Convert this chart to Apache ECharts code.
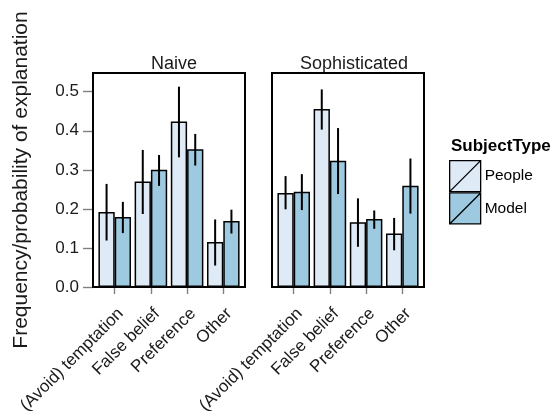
<!DOCTYPE html>
<html><head><meta charset="utf-8">
<script src="https://cdn.jsdelivr.net/npm/echarts@6/dist/echarts.min.js"></script>
<style>html,body{margin:0;padding:0;background:#fff}#c{width:556px;height:411px}</style>
</head><body><div id="c"></div>
<script>
const categories = ['(Avoid) temptation', 'False belief', 'Preference', 'Other'];
const panels = ['Naive', 'Sophisticated'];
const groups = ['People', 'Model'];
const yTicks = [0, 0.1, 0.2, 0.3, 0.4, 0.5];

const naivePeople   = [0.192, 0.270, 0.424, 0.115];
const naivePeopleLo = [0.119, 0.187, 0.332, 0.055];
const naivePeopleHi = [0.264, 0.351, 0.513, 0.173];
const naiveModel    = [0.179, 0.300, 0.353, 0.169];
const naiveModelLo  = [0.138, 0.259, 0.311, 0.137];
const naiveModelHi  = [0.218, 0.338, 0.392, 0.198];

const sophPeople    = [0.241, 0.456, 0.166, 0.137];
const sophPeopleLo  = [0.199, 0.403, 0.103, 0.094];
const sophPeopleHi  = [0.284, 0.506, 0.227, 0.177];
const sophModel     = [0.244, 0.323, 0.174, 0.259];
const sophModelLo   = [0.197, 0.238, 0.149, 0.188];
const sophModelHi   = [0.289, 0.407, 0.196, 0.329];

const colors = { People: '#deebf7', Model: '#9ecae1' };
const FONT = 'Liberation Sans, Arial, sans-serif';
const Y_MAX = 0.548;

const chart = echarts.init(document.getElementById('c'), null, { renderer: 'canvas' });

const panelData = [
  { People: naivePeople, PeopleLo: naivePeopleLo, PeopleHi: naivePeopleHi, Model: naiveModel, ModelLo: naiveModelLo, ModelHi: naiveModelHi },
  { People: sophPeople, PeopleLo: sophPeopleLo, PeopleHi: sophPeopleHi, Model: sophModel, ModelLo: sophModelLo, ModelHi: sophModelHi }
];

const panelLefts = [93, 272];
const panelW = 152, panelTop = 73, panelH = 214;
const unit = panelW / 4.2;

const grids = [];
panelLefts.forEach(l => grids.push({ left: l + 0.1 * unit, top: panelTop, width: 4 * unit, height: panelH, show: false, containLabel: false, outerBoundsMode: 'none' }));
panelLefts.forEach(l => grids.push({ left: l, top: panelTop, width: panelW, height: panelH, show: true, borderColor: '#000', borderWidth: 2, backgroundColor: 'transparent', z: 10, containLabel: false, outerBoundsMode: 'none' }));

const xAxes = [];
const yAxes = [];
panels.forEach((p, i) => {
  xAxes.push({
    type: 'category', gridIndex: i, data: categories,
    axisLine: { show: false },
    axisTick: { show: true, alignWithLabel: true, length: 7, lineStyle: { color: '#808080', width: 1.4 } },
    axisLabel: { rotate: 45, margin: 18, fontSize: 17, color: '#1a1a1a', fontFamily: FONT, interval: 0, verticalAlign: 'top', align: 'right' },
    splitLine: { show: false }
  });
  yAxes.push({ type: 'value', gridIndex: i, min: 0, max: Y_MAX, show: false, splitLine: { show: false } });
});
panels.forEach((p, i) => {
  xAxes.push({ type: 'value', gridIndex: 2 + i, min: 0, max: 1, show: false, splitLine: { show: false } });
  yAxes.push({
    type: 'value', gridIndex: 2 + i, min: 0, max: Y_MAX,
    axisLine: { show: false },
    axisTick: { show: i === 0, length: 10, lineStyle: { color: '#808080', width: 1.4 }, customValues: yTicks },
    axisLabel: { show: i === 0, fontSize: 17, color: '#1a1a1a', fontFamily: FONT, margin: 14, customValues: yTicks, formatter: v => v.toFixed(1) },
    splitLine: { show: false },
    name: i === 0 ? 'Frequency/probability of explanation' : '',
    nameLocation: 'middle', nameGap: 61, nameRotate: 90,
    nameTextStyle: { fontSize: 21, color: '#1a1a1a', fontFamily: FONT }
  });
});

const series = [];
panels.forEach((p, i) => {
  groups.forEach(g => {
    series.push({
      type: 'bar', name: g, xAxisIndex: i, yAxisIndex: i,
      data: panelData[i][g],
      barCategoryGap: '10%', barGap: '0%',
      itemStyle: { color: colors[g], borderColor: '#000', borderWidth: 1.5 },
      emphasis: { disabled: true }, z: 2
    });
  });
  groups.forEach((g, gi) => {
    const lo = panelData[i][g + 'Lo'], hi = panelData[i][g + 'Hi'];
    series.push({
      type: 'custom', name: g + ' err', xAxisIndex: i, yAxisIndex: i, z: 3,
      data: categories.map((c, k) => [k, lo[k], hi[k]]),
      renderItem: (params, api) => {
        const bw = api.size([1, 0])[0];
        const off = (gi === 0 ? -1 : 1) * 0.225 * bw;
        const a = api.coord([api.value(0), api.value(1)]);
        const b = api.coord([api.value(0), api.value(2)]);
        return { type: 'line', shape: { x1: a[0] + off, y1: a[1], x2: b[0] + off, y2: b[1] }, style: { stroke: '#000', lineWidth: 2 } };
      }
    });
  });
});

chart.setOption({
  animation: false,
  backgroundColor: '#fff',
  textStyle: { fontFamily: FONT },
  title: [
    { text: 'Naive', left: 169, top: 50, textAlign: 'center', textStyle: { fontSize: 18, fontWeight: 'normal', color: '#1a1a1a', fontFamily: FONT } },
    { text: 'Sophisticated', left: 349, top: 50, textAlign: 'center', textStyle: { fontSize: 18, fontWeight: 'normal', color: '#1a1a1a', fontFamily: FONT } },
    { text: 'SubjectType', left: 451, top: 138, padding: 0, textStyle: { fontSize: 17, fontWeight: 'bold', color: '#000', fontFamily: FONT } }
  ],
  legend: {
    data: groups, orient: 'vertical', left: 449, top: 160, padding: 0,
    itemWidth: 31, itemHeight: 31, itemGap: 0,
    icon: 'path://M0,0L30,0L30,30L0,30Z M0,30L30,0',
    itemStyle: { borderColor: '#000', borderWidth: 1.3 },
    textStyle: { fontSize: 15.5, color: '#000', fontFamily: FONT, padding: [0, 0, 0, -1] },
    selectedMode: false
  },
  grid: grids, xAxis: xAxes, yAxis: yAxes, series: series
});
</script></body></html>
